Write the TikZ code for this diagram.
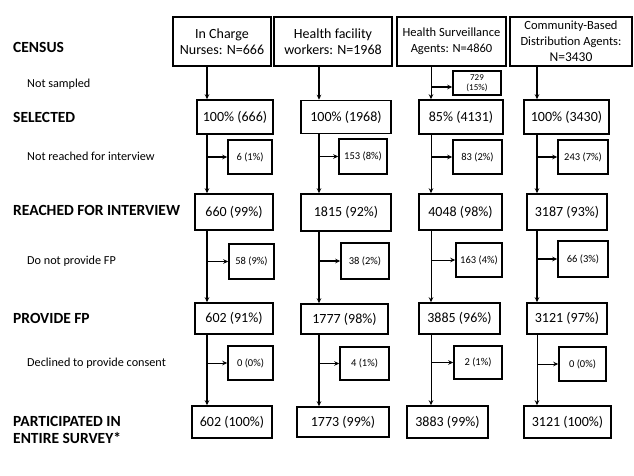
\documentclass[tikz,border=0pt]{standalone}
\usepackage{fontspec}
\setmainfont{Carlito}
\usetikzlibrary{arrows.meta}
\begin{document}
\begin{tikzpicture}[x=1pt,y=-1pt,
  box/.style={draw,line width=1.5pt,inner sep=0pt,align=center},
  mainbox/.style={box,font=\fontsize{14}{16.5}\selectfont},
  smallbox/.style={box,font=\fontsize{10.5}{11}\selectfont},
  hdr/.style={box,font=\fontsize{14}{16.5}\selectfont},
  hdrs/.style={box,font=\fontsize{12.5}{16}\selectfont},
  rowlab/.style={anchor=west,inner sep=0pt,font=\fontsize{15.5}{16}\bfseries\selectfont,align=left},
  sublab/.style={anchor=west,inner sep=0pt,font=\fontsize{12.2}{13}\selectfont},
  conn/.style={line width=1.3pt,-{Stealth[length=5pt,width=4.5pt]}},
  thin/.style={line width=0.9pt}
]
\useasboundingbox (0,0) rectangle (634,476);

% left labels
\node[rowlab] (L1) at (13,47) {CENSUS};
\node[sublab] (S1) at (27,84) {Not sampled};
\node[rowlab] (L2) at (13,117) {SELECTED};
\node[sublab] (S2) at (27,156) {Not reached for interview};
\node[rowlab] (L3) at (13,210) {REACHED FOR INTERVIEW};
\node[sublab] (S3) at (27,261) {Do not provide FP};
\node[rowlab] (L4) at (13,318) {PROVIDE FP};
\node[sublab] (S4) at (27,363) {Declined to provide consent};
\node[rowlab,font=\fontsize{15.5}{17}\bfseries\selectfont] (L5) at (13,430) {PARTICIPATED IN\\ENTIRE SURVEY*};

% headers
\node[hdr,minimum width=98pt,minimum height=49pt] (h1) at (222,41.5) {In Charge\\Nurses: N=666};
\node[hdr,minimum width=118pt,minimum height=49pt] (h2) at (333,41.5) {Health facility\\workers: N=1968};
\node[hdrs,minimum width=109pt,minimum height=49pt] (h3) at (451.5,41.5) {Health Surveillance\\Agents: N=4860};
\node[hdrs,minimum width=122pt,minimum height=49pt] (h4) at (571,41.5) {Community-Based\\Distribution Agents:\\{\fontsize{13.5}{16}\selectfont N=3430}};

\node[smallbox,minimum width=48pt,minimum height=24pt,font=\fontsize{9}{9.5}\selectfont] (s3) at (477,83) {729\\(15\%)};

% selected
\node[mainbox,minimum width=76pt,minimum height=34pt] (a1) at (235,117) {100\% (666)};
\node[mainbox,minimum width=90pt,minimum height=33pt] (a2) at (346,117) {100\% (1968)};
\node[mainbox,minimum width=84pt,minimum height=34pt] (a3) at (461,117) {85\% (4131)};
\node[mainbox,minimum width=85pt,minimum height=34pt] (a4) at (566.5,117) {100\% (3430)};

% not reached
\node[smallbox,minimum width=44pt,minimum height=34pt] (b1) at (250,157) {6 (1\%)};
\node[smallbox,minimum width=48pt,minimum height=35pt] (b2) at (363,156.5) {153 (8\%)};
\node[smallbox,minimum width=49pt,minimum height=34pt] (b3) at (477.5,157) {83 (2\%)};
\node[smallbox,minimum width=50pt,minimum height=34pt] (b4) at (583,157) {243 (7\%)};

% reached
\node[mainbox,minimum width=78pt,minimum height=36pt] (c1) at (234,212) {660 (99\%)};
\node[mainbox,minimum width=90pt,minimum height=37pt] (c2) at (346,212.5) {1815 (92\%)};
\node[mainbox,minimum width=83pt,minimum height=36pt] (c3) at (460.5,212) {4048 (98\%)};
\node[mainbox,minimum width=80pt,minimum height=36pt] (c4) at (567,212) {3187 (93\%)};

% do not provide
\node[smallbox,minimum width=45pt,minimum height=35pt] (d1) at (251.5,261.5) {58 (9\%)};
\node[smallbox,minimum width=48pt,minimum height=36pt] (d2) at (365,261) {38 (2\%)};
\node[smallbox,minimum width=46pt,minimum height=34pt] (d3) at (479,260) {163 (4\%)};
\node[smallbox,minimum width=50pt,minimum height=36pt] (d4) at (583,259) {66 (3\%)};

% provide
\node[mainbox,minimum width=78pt,minimum height=31pt] (e1) at (234,318.5) {602 (91\%)};
\node[mainbox,minimum width=87pt,minimum height=30pt] (e2) at (344.5,319) {1777 (98\%)};
\node[mainbox,minimum width=81pt,minimum height=31pt] (e3) at (459.5,318.5) {3885 (96\%)};
\node[mainbox,minimum width=80pt,minimum height=31pt] (e4) at (567,318.5) {3121 (97\%)};

% declined
\node[smallbox,minimum width=45pt,minimum height=34pt] (f1) at (250.5,363) {0 (0\%)};
\node[smallbox,minimum width=49pt,minimum height=33pt] (f2) at (364.5,363.5) {4 (1\%)};
\node[smallbox,minimum width=48pt,minimum height=33pt] (f3) at (478,362.5) {2 (1\%)};
\node[smallbox,minimum width=47pt,minimum height=34pt] (f4) at (582.5,364) {0 (0\%)};

% participated
\node[mainbox,minimum width=80pt,minimum height=32pt] (g1) at (232,422) {602 (100\%)};
\node[mainbox,minimum width=92pt,minimum height=30pt] (g2) at (343,422) {1773 (99\%)};
\node[mainbox,minimum width=81pt,minimum height=32pt] (g3) at (447.5,422) {3883 (99\%)};
\node[mainbox,minimum width=87pt,minimum height=32pt] (g4) at (567.5,422) {3121 (100\%)};

% vertical line positions
\coordinate (v1) at (207,0);
\coordinate (v2) at (319,0);
\coordinate (v3) at (431,0);
\coordinate (v4) at (537,0);

% column 1
\draw[conn] (h1.south -| v1) -- (a1.north -| v1);
\draw[conn] (a1.south -| v1) -- (c1.north -| v1);
\draw[conn] (c1.south -| v1) -- (e1.north -| v1);
\draw[conn] (e1.south -| v1) -- (g1.north -| v1);
\draw[conn] (b1.west -| v1) -- (b1.west);
\draw[conn] (d1.west -| v1) -- (d1.west);
\draw[conn,thin] (f1.west -| v1) -- (f1.west);

% column 2
\draw[conn] (h2.south -| v2) -- (a2.north -| v2);
\draw[conn] (a2.south -| v2) -- (c2.north -| v2);
\draw[conn] (c2.south -| v2) -- (e2.north -| v2);
\draw[conn] (e2.south -| v2) -- (g2.north -| v2);
\draw[conn] (b2.west -| v2) -- (b2.west);
\draw[conn] (d2.west -| v2) -- (d2.west);
\draw[conn] (f2.west -| v2) -- (f2.west);

% column 3
\draw[conn,thin] (h3.south -| v3) -- (a3.north -| v3);
\draw[conn,thin] (a3.south -| v3) -- (c3.north -| v3);
\draw[conn,thin] (c3.south -| v3) -- (e3.north -| v3);
\draw[conn,thin] (e3.south -| v3) -- (g3.north -| v3);
\draw[conn] ([yshift=-4pt]s3.west -| v3) -- ([yshift=-4pt]s3.west);
\draw[conn] (b3.west -| v3) -- (b3.west);
\draw[conn,thin] (d3.west -| v3) -- (d3.west);
\draw[conn] (f3.west -| v3) -- (f3.west);

% column 4
\draw[conn] (h4.south -| v4) -- (a4.north -| v4);
\draw[conn] (a4.south -| v4) -- (c4.north -| v4);
\draw[conn] (c4.south -| v4) -- (e4.north -| v4);
\draw[conn,thin] (e4.south -| v4) -- (g4.north -| v4);
\draw[conn] (b4.west -| v4) -- (b4.west);
\draw[conn] (d4.west -| v4) -- (d4.west);
\draw[conn,thin] (f4.west -| v4) -- (f4.west);
\end{tikzpicture}
\end{document}
